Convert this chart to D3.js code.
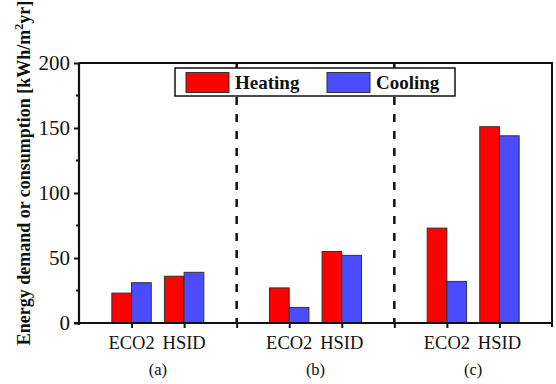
<!DOCTYPE html>
<html>
<head>
<meta charset="utf-8">
<script src="https://cdn.jsdelivr.net/npm/d3@7"></script>
<style>
  html, body { margin: 0; padding: 0; background: #fff; }
  svg { display: block; }
</style>
</head>
<body>
<svg id="chart" width="556" height="384"></svg>
<script>
// Cases and buildings on the x axis
const groups = ["(a)", "(b)", "(c)"];
const buildings = ["ECO2", "HSID"];
// Annual energy [kWh/m²yr] per case, in building order
const heating = [23, 36, 27, 55, 73, 151];
const cooling = [31, 39, 12, 52, 32, 144];
const seriesNames = ["Heating", "Cooling"];
const seriesColors = ["#ff0000", "#4b4bff"];
const yTicks = [0, 50, 100, 150, 200];
const yMinorTicks = [25, 75, 125, 175];

const FONT = "'Liberation Serif'";

const svg = d3.select("#chart");
const margin = { left: 79, right: 4, top: 63, bottom: 61 };
const W = 556, H = 384;
const x0 = margin.left, x1 = W - margin.right;
const y0 = H - margin.bottom, y1 = margin.top;

// Numeric slot axis: buildings at 1,2 | 4,5 | 7,8, separators at 3 and 6
const x = d3.scaleLinear().domain([0, 9]).range([x0, x1]);
const y = d3.scaleLinear().domain([0, 200]).range([y0, y1]);

const rows = [];
groups.forEach((g, gi) => {
  buildings.forEach((b, bi) => {
    const k = gi * 2 + bi;
    rows.push({ group: g, building: b, pos: gi * 3 + bi + 1, heating: heating[k], cooling: cooling[k] });
  });
});
const separators = [3, 6];
const barW = 0.375;

// Bars
const barG = svg.append("g");
rows.forEach(r => {
  [r.heating, r.cooling].forEach((v, si) => {
    const xa = si === 0 ? x(r.pos - barW) : x(r.pos);
    const xb = si === 0 ? x(r.pos) : x(r.pos + barW);
    barG.append("rect")
      .attr("x", xa).attr("y", y(v))
      .attr("width", xb - xa).attr("height", y(0) - y(v))
      .attr("fill", seriesColors[si])
      .attr("stroke", "#333").attr("stroke-width", 1);
  });
});

// Dashed separators between cases
svg.append("g").selectAll("line").data(separators).join("line")
  .attr("x1", d => x(d)).attr("x2", d => x(d))
  .attr("y1", y1).attr("y2", y0)
  .attr("stroke", "#111").attr("stroke-width", 2.5)
  .attr("stroke-dasharray", "8,9");

// Frame (top and right)
svg.append("path")
  .attr("d", `M${x0},${y1}H${x1}V${y0 + 4}`)
  .attr("fill", "none").attr("stroke", "#111").attr("stroke-width", 2);

// Left axis
const yAxis = svg.append("g").attr("transform", `translate(${x0},0)`)
  .call(d3.axisLeft(y).tickValues(yTicks).tickSize(5).tickPadding(4).tickFormat(d3.format("d")));
yAxis.attr("font-family", FONT).attr("font-size", 21);
yAxis.select(".domain").attr("stroke", "#111").attr("stroke-width", 2.2)
  .attr("d", `M0,${y0 + 2}V${y1}`);
yAxis.selectAll(".tick line").attr("stroke", "#111").attr("stroke-width", 2);
yAxis.selectAll(".tick text").attr("fill", "#111");
svg.append("g").selectAll("line").data(yMinorTicks).join("line")
  .attr("x1", x0 - 3).attr("x2", x0).attr("y1", d => y(d)).attr("y2", d => y(d))
  .attr("stroke", "#111").attr("stroke-width", 2);

// Bottom axis
const xAxis = svg.append("g").attr("transform", `translate(0,${y0})`)
  .call(d3.axisBottom(x).tickValues(rows.map(r => r.pos).concat(separators)).tickSize(5).tickFormat(""));
xAxis.select(".domain").attr("stroke", "#111").attr("stroke-width", 2.2)
  .attr("d", `M${x0 - 5},0H${x1}`);
xAxis.selectAll(".tick line").attr("stroke", "#111").attr("stroke-width", 2);

// Building labels
svg.append("g").attr("font-family", FONT).attr("font-size", 18.5).attr("fill", "#111")
  .selectAll("text").data(rows).join("text")
  .attr("x", d => x(d.pos)).attr("y", y0 + 26)
  .attr("text-anchor", "middle")
  .text(d => d.building);

// Case labels
svg.append("g").attr("font-family", FONT).attr("font-size", 16.5).attr("fill", "#111")
  .selectAll("text").data(groups).join("text")
  .attr("x", (d, i) => x(i * 3 + 1.5)).attr("y", y0 + 52)
  .attr("text-anchor", "middle")
  .text(d => d);

// Y axis title
const yt = svg.append("text")
  .attr("transform", `translate(30,${(3 + 343) / 2}) rotate(-90)`)
  .attr("text-anchor", "middle").attr("fill", "#111")
  .attr("font-family", FONT).attr("font-size", 18).attr("font-weight", "bold");
yt.append("tspan").text("Energy demand or consumption [kWh/m");
yt.append("tspan").attr("dy", -7).attr("font-size", 12).text("2");
yt.append("tspan").attr("dy", 7).text("yr]");

// Legend
const leg = svg.append("g");
leg.append("rect").attr("x", 175).attr("y", 68).attr("width", 280).attr("height", 28)
  .attr("fill", "#fff").attr("stroke", "#111").attr("stroke-width", 1.5);
const legX = [186, 327];
seriesNames.forEach((n, i) => {
  leg.append("rect").attr("x", legX[i]).attr("y", 72.5).attr("width", 43).attr("height", 20)
    .attr("fill", seriesColors[i]).attr("stroke", "#333").attr("stroke-width", 1);
  leg.append("text").attr("x", legX[i] + 49).attr("y", 89).attr("fill", "#111")
    .attr("font-family", FONT).attr("font-size", 19).attr("font-weight", "bold").text(n);
});
</script>
</body>
</html>
